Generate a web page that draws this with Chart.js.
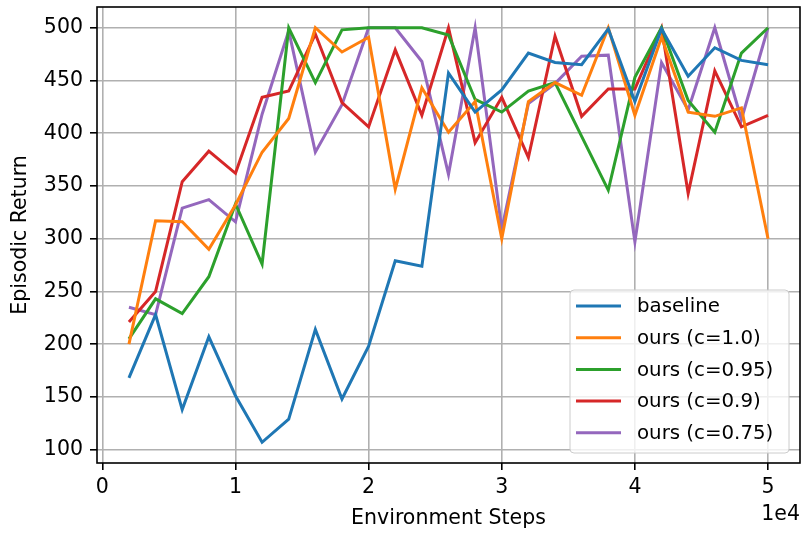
<!DOCTYPE html>
<html>
<head>
<meta charset="utf-8">
<title>Episodic Return vs Environment Steps</title>
<script src="https://cdn.jsdelivr.net/npm/chart.js@4/dist/chart.umd.min.js"></script>
<style>
  html, body { margin: 0; padding: 0; background: #ffffff; }
  #wrap { width: 804px; height: 535px; }
</style>
</head>
<body>
<div id="wrap"><canvas id="chart" width="804" height="535"></canvas></div>
<script>
// Evaluation checkpoints (environment steps)
const steps = [2000, 4000, 6000, 8000, 10000, 12000, 14000, 16000, 18000, 20000,
               22000, 24000, 26000, 28000, 30000, 32000, 34000, 36000, 38000, 40000,
               42000, 44000, 46000, 48000, 50000];

// Episodic return per run
const baseline = [168, 228, 138, 207, 151, 107, 129, 214, 148, 198, 279, 274, 457,
                  420, 441, 476, 467, 465, 499, 430, 499, 454, 481, 469, 465];
const oursC100 = [200, 317, 316, 290, 332, 382, 414, 500, 477, 491, 347, 443, 401,
                  430, 300, 430, 448, 436, 500, 417, 491, 420, 416, 424, 300];
const oursC095 = [205, 243, 229, 264, 333, 276, 500, 448, 498, 500, 500, 500, 493,
                  432, 420, 440, 448, 397, 346, 453, 500, 431, 401, 476, 500];
const oursC090 = [221, 250, 354, 383, 362, 434, 440, 494, 429, 406, 479, 417, 500,
                  391, 434, 377, 492, 416, 442, 442, 500, 343, 459, 406, 417];
const oursC075 = [235, 228, 329, 337, 316, 418, 497, 382, 427, 500, 500, 468, 361,
                  500, 309, 428, 447, 473, 474, 297, 467, 422, 500, 413, 500];

const seriesLabels = ['baseline', 'ours (c=1.0)', 'ours (c=0.95)', 'ours (c=0.9)', 'ours (c=0.75)'];
const seriesValues = [baseline, oursC100, oursC095, oursC090, oursC075];
const seriesColors = ['#1f77b4', '#ff7f0e', '#2ca02c', '#d62728', '#9467bd'];

// Tick positions
const xTicks = [0, 10000, 20000, 30000, 40000, 50000];
const yTicks = [100, 150, 200, 250, 300, 350, 400, 450, 500];
const xScaleExponent = '1e4';

const FONT = 'DejaVu Sans';
const AXIS_FONT_SIZE = 20.5;
const LEGEND_FONT_SIZE = 19.8;

// Axis limits with a 5% margin around the data
const allY = seriesValues.flat();
const yMin = Math.min(...allY), yMax = Math.max(...allY);
const yPad = (yMax - yMin) * 0.05;
const xPad = (steps[steps.length - 1] - steps[0]) * 0.05;

const datasets = seriesValues.map((vals, i) => ({
  label: seriesLabels[i],
  data: steps.map((s, j) => ({ x: s, y: vals[j] })),
  borderColor: seriesColors[i],
  backgroundColor: seriesColors[i],
  borderWidth: 3,
  pointRadius: 0,
  tension: 0,
  fill: false
}));

// Frame around the plotting area
const framePlugin = {
  id: 'frame',
  afterDatasetsDraw(chart) {
    const { ctx, chartArea: a } = chart;
    ctx.save();
    ctx.strokeStyle = '#000000';
    ctx.lineWidth = 1.6;
    ctx.strokeRect(a.left, a.top, a.right - a.left, a.bottom - a.top);
    ctx.restore();
  }
};

// Exponent label under the x axis
const offsetTextPlugin = {
  id: 'offsetText',
  afterDraw(chart) {
    const { ctx, chartArea: a } = chart;
    ctx.save();
    ctx.font = `${AXIS_FONT_SIZE}px "${FONT}"`;
    ctx.fillStyle = '#000000';
    ctx.textAlign = 'right';
    ctx.textBaseline = 'middle';
    ctx.fillText(xScaleExponent, a.right, 515);
    ctx.restore();
  }
};

// Legend box in the lower right of the plot
const legendBoxPlugin = {
  id: 'legendBox',
  afterDraw(chart) {
    const { ctx, chartArea: a } = chart;
    const boxW = 219, boxH = 163;
    const boxX = a.right - 11 - boxW;
    const boxY = a.bottom - 10 - boxH;
    const rowH = 31.7;
    ctx.save();
    ctx.beginPath();
    if (ctx.roundRect) ctx.roundRect(boxX, boxY, boxW, boxH, 4);
    else ctx.rect(boxX, boxY, boxW, boxH);
    ctx.fillStyle = 'rgba(255,255,255,0.8)';
    ctx.fill();
    ctx.strokeStyle = '#cccccc';
    ctx.lineWidth = 1;
    ctx.stroke();
    ctx.font = `${LEGEND_FONT_SIZE}px "${FONT}"`;
    ctx.textBaseline = 'middle';
    ctx.textAlign = 'left';
    seriesLabels.forEach((lab, i) => {
      const cy = boxY + 16 + i * rowH;
      ctx.strokeStyle = seriesColors[i];
      ctx.lineWidth = 3;
      ctx.beginPath();
      ctx.moveTo(boxX + 6, cy);
      ctx.lineTo(boxX + 51, cy);
      ctx.stroke();
      ctx.fillStyle = '#000000';
      ctx.fillText(lab, boxX + 67, cy + 1);
    });
    ctx.restore();
  }
};

new Chart(document.getElementById('chart'), {
  type: 'line',
  data: { datasets },
  plugins: [framePlugin, offsetTextPlugin, legendBoxPlugin],
  options: {
    responsive: false,
    animation: false,
    devicePixelRatio: 1,
    layout: { padding: { top: 7, right: 4, left: 0, bottom: 0 } },
    plugins: {
      legend: { display: false },
      tooltip: { enabled: false }
    },
    scales: {
      x: {
        type: 'linear',
        min: steps[0] - xPad,
        max: steps[steps.length - 1] + xPad,
        afterBuildTicks(axis) { axis.ticks = xTicks.map(v => ({ value: v })); },
        afterFit(axis) { axis.height = 72; axis.paddingLeft = 0; axis.paddingRight = 0; },
        border: { display: false },
        grid: { color: '#b0b0b0', lineWidth: 1.6, tickColor: '#000000', tickLength: 7, tickWidth: 1.6 },
        ticks: {
          color: '#000000',
          font: { family: FONT, size: AXIS_FONT_SIZE },
          padding: 5,
          maxRotation: 0,
          autoSkip: false,
          callback: v => String(v / 10000)
        },
        title: {
          display: true,
          text: 'Environment Steps',
          color: '#000000',
          font: { family: FONT, size: AXIS_FONT_SIZE },
          padding: { top: 0, bottom: 4 }
        }
      },
      y: {
        type: 'linear',
        min: yMin - yPad,
        max: yMax + yPad,
        afterBuildTicks(axis) { axis.ticks = yTicks.map(v => ({ value: v })); },
        afterFit(axis) { axis.width = 97; axis.paddingTop = 0; axis.paddingBottom = 0; },
        border: { display: false },
        grid: { color: '#b0b0b0', lineWidth: 1.6, tickColor: '#000000', tickLength: 7, tickWidth: 1.6 },
        ticks: {
          color: '#000000',
          font: { family: FONT, size: AXIS_FONT_SIZE },
          padding: 7,
          autoSkip: false
        },
        title: {
          display: true,
          text: 'Episodic Return',
          color: '#000000',
          font: { family: FONT, size: AXIS_FONT_SIZE },
          padding: { top: 8, bottom: 0 }
        }
      }
    }
  }
});
</script>
</body>
</html>
